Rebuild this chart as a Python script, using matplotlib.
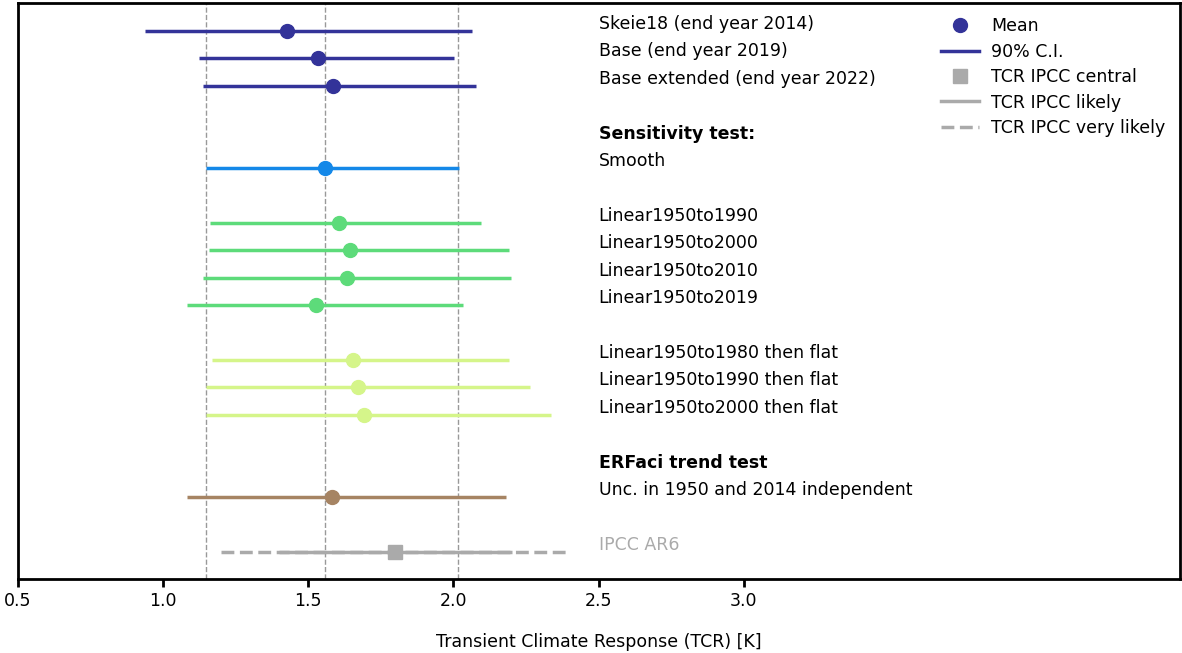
import matplotlib.pyplot as plt
from matplotlib.lines import Line2D

# TCR estimates: mean and 90% range, one entry per row
labels = [
    "Skeie18 (end year 2014)",
    "Base (end year 2019)",
    "Base extended (end year 2022)",
    "Smooth",
    "Linear1950to1990",
    "Linear1950to2000",
    "Linear1950to2010",
    "Linear1950to2019",
    "Linear1950to1980 then flat",
    "Linear1950to1990 then flat",
    "Linear1950to2000 then flat",
    "Unc. in 1950 and 2014 independent",
]
rows = [0, 1, 2, 5, 7, 8, 9, 10, 12, 13, 14, 17]
means = [1.426, 1.533, 1.584, 1.557, 1.605, 1.643, 1.633, 1.526, 1.653, 1.670, 1.691, 1.581]
lows = [0.937, 1.123, 1.137, 1.147, 1.161, 1.157, 1.137, 1.082, 1.168, 1.147, 1.147, 1.082]
highs = [2.063, 2.001, 2.077, 2.018, 2.094, 2.190, 2.197, 2.032, 2.190, 2.262, 2.335, 2.180]
colors = ["#333399"] * 3 + ["#1488e8"] + ["#5ddb7a"] * 4 + ["#d5f58a"] * 3 + ["#a68463"]

headers = {4: "Sensitivity test:", 16: "ERFaci trend test"}

# reference lines (smooth run: 5%, mean, 95%)
ref_lines = [1.147, 1.557, 2.015]

# IPCC AR6 assessed TCR
ipcc_row = 19
ipcc_central = 1.8
ipcc_likely = [1.4, 2.2]
ipcc_very_likely = [1.2, 2.4]
grey = "#aaaaaa"

FS = 12.5

fig, ax = plt.subplots(figsize=(11.82, 6.53), dpi=100)
fig.subplots_adjust(left=0.015, right=0.998, top=0.995, bottom=0.113)

for x in ref_lines:
    ax.axvline(x, color="#999999", ls="--", lw=1.0, zorder=0)

for lab, r, m, lo, hi, c in zip(labels, rows, means, lows, highs, colors):
    ax.plot([lo, hi], [r, r], color=c, lw=2.5, solid_capstyle="butt")
    ax.plot(m, r, "o", color=c, ms=10)
    ax.text(2.5, r - 0.25, lab, fontsize=FS, va="center")

for r, h in headers.items():
    ax.text(2.5, r - 0.25, h, fontsize=FS, va="center", fontweight="bold")

ax.plot(ipcc_very_likely, [ipcc_row] * 2, color=grey, lw=2.5, ls="--")
ax.plot(ipcc_likely, [ipcc_row] * 2, color=grey, lw=2.5, solid_capstyle="butt")
ax.plot(ipcc_central, ipcc_row, "s", color=grey, ms=10)
ax.text(2.5, ipcc_row - 0.25, "IPCC AR6", fontsize=FS, va="center", color=grey)

ax.set_xlim(0.5, 4.5)
ax.set_ylim(20, -1)
ax.set_xticks([0.5, 1.0, 1.5, 2.0, 2.5, 3.0])
ax.set_yticks([])
ax.tick_params(axis="x", labelsize=FS, width=2, length=6)
for s in ax.spines.values():
    s.set_linewidth(2)
ax.set_xlabel("Transient Climate Response (TCR) [K]", fontsize=FS, labelpad=16)

handles = [
    Line2D([], [], ls="", marker="o", color="#333399", ms=10),
    Line2D([], [], color="#333399", lw=2.5),
    Line2D([], [], ls="", marker="s", color=grey, ms=10),
    Line2D([], [], color=grey, lw=2.5),
    Line2D([], [], color=grey, lw=2.5, ls="--"),
]
names = ["Mean", "90% C.I.", "TCR IPCC central", "TCR IPCC likely", "TCR IPCC very likely"]
ax.legend(handles, names, loc="upper right", frameon=False, fontsize=FS,
          bbox_to_anchor=(1.0, 1.0), labelspacing=0.43, handlelength=2.2,
          handletextpad=0.7, borderaxespad=0.4)

fig.savefig("out.png", dpi=100)
